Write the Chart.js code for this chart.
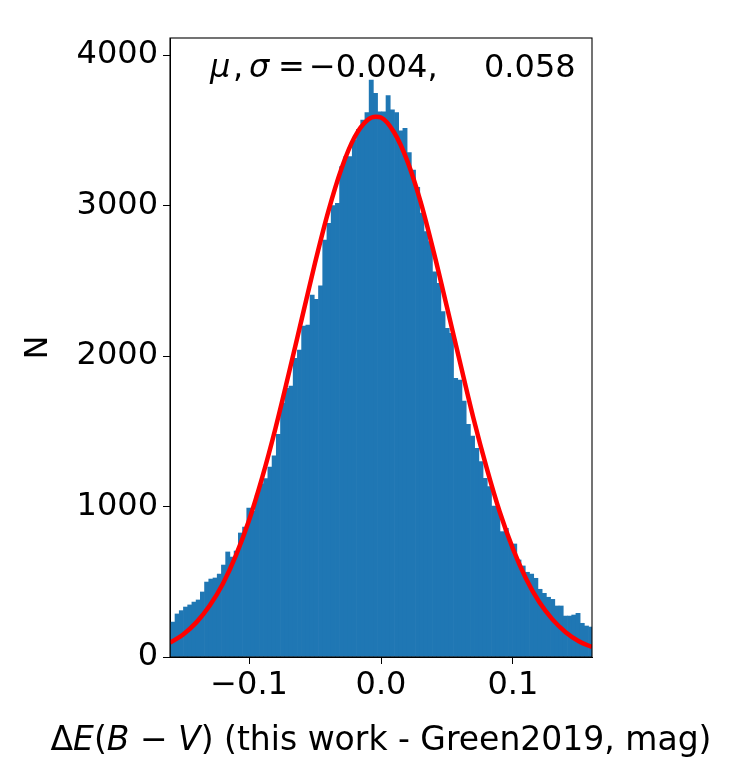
<!DOCTYPE html>
<html>
<head>
<meta charset="utf-8">
<script src="https://cdn.jsdelivr.net/npm/chart.js@4.4.1/dist/chart.umd.min.js"></script>
<style>
  html, body { margin: 0; padding: 0; background: #fff; overflow: hidden; }
  canvas { display: block; }
</style>
</head>
<body>
<canvas id="histChart" width="740" height="760"></canvas>
<script>
// Histogram bins
const binStart = -0.1594;
const binWidth = 0.0032;
const counts = [
    232, 286, 308, 332, 346, 365, 379, 432, 498, 518,
    525, 551, 611, 698, 664, 704, 824, 864, 990, 970,
    1076, 1150, 1185, 1262, 1336, 1480, 1685, 1785, 1800, 1985,
    2040, 2199, 2205, 2405, 2376, 2467, 2771, 2882, 2999, 3014,
    3258, 3325, 3325, 3435, 3506, 3568, 3617, 3834, 3745, 3623,
    3623, 3730, 3635, 3617, 3497, 3513, 3351, 3236, 3120, 2950,
    2826, 2760, 2560, 2483, 2295, 2184, 2150, 1851, 1840, 1701,
    1546, 1468, 1387, 1298, 1187, 1132, 1003, 988, 833, 855,
    755, 751, 645, 605, 563, 551, 523, 450, 423, 397,
    383, 339, 339, 272, 272, 279, 290, 224, 206, 199
];

// Red fitted curve, read at these x positions
const fitX = [
    -0.16, -0.15, -0.14, -0.13, -0.12, -0.11, -0.10, -0.09, -0.08, -0.07, -0.06,
    -0.05, -0.04, -0.03, -0.02, -0.01, -0.004, 0.00, 0.01, 0.02, 0.03, 0.04, 0.05,
    0.06, 0.07, 0.08, 0.09, 0.10, 0.11, 0.12, 0.13, 0.14, 0.15, 0.16
];
const fitY = [
    95, 150, 230, 340, 485, 675, 910, 1195, 1520, 1880, 2250,
    2620, 2960, 3245, 3455, 3570, 3590, 3585, 3485, 3295, 3025, 2690, 2325,
    1955, 1590, 1260, 965, 720, 520, 365, 250, 165, 105, 66
];

const xTicks = [-0.1, 0.0, 0.1];
const yTicks = [0, 1000, 2000, 3000, 4000];

const FONT = 'DejaVu Sans';
const FS = 32;

document.addEventListener('DOMContentLoaded', function() {
    const barData = counts.map((c, i) => ({ x: binStart + (i + 0.5) * binWidth, y: c }));
    const lineData = fitX.map((x, i) => ({ x: x, y: fitY[i] }));

    // draws a list of [text, italic] pieces one after another
    function drawPieces(ctx, pieces, x, y, size) {
        let cx = x;
        pieces.forEach(p => {
            ctx.font = (p[1] ? 'italic ' : '') + size + 'px "' + FONT + '"';
            ctx.fillText(p[0], cx, y);
            cx += ctx.measureText(p[0]).width;
        });
    }
    function piecesWidth(ctx, pieces, size) {
        let w = 0;
        pieces.forEach(p => {
            ctx.font = (p[1] ? 'italic ' : '') + size + 'px "' + FONT + '"';
            w += ctx.measureText(p[0]).width;
        });
        return w;
    }

    const textPlugin = {
        id: 'textPlugin',
        afterDraw(chart) {
            const ctx = chart.ctx;
            const ca = chart.chartArea;
            ctx.save();
            // frame
            ctx.strokeStyle = '#000';
            ctx.lineWidth = 1.1;
            ctx.strokeRect(ca.left, ca.top, ca.right - ca.left, ca.bottom - ca.top);

            ctx.fillStyle = '#000';
            ctx.textBaseline = 'alphabetic';
            ctx.textAlign = 'left';

            // mu, sigma label
            ctx.font = 'italic ' + FS + 'px "' + FONT + '"';
            ctx.fillText('\u03bc', 210, 77);
            ctx.font = FS + 'px "' + FONT + '"';
            ctx.fillText(',', 233, 77);
            ctx.font = 'italic ' + FS + 'px "' + FONT + '"';
            ctx.fillText('\u03c3', 249, 77);
            ctx.font = FS + 'px "' + FONT + '"';
            ctx.fillText('=', 278, 77);
            ctx.fillText('\u22120.004,', 309, 77);
            ctx.fillText('0.058', 484, 77);

            // x axis title
            const title = [
                ['\u0394', false], ['E', true], ['(', false], ['B', true],
                [' \u2212 ', false], ['V', true], [') (this work - Green2019, mag)', false]
            ];
            const w = piecesWidth(ctx, title, 33);
            drawPieces(ctx, title, (ca.left + ca.right) / 2 - w / 2, 750, 33);

            // y axis title
            ctx.translate(39, (ca.top + ca.bottom) / 2);
            ctx.rotate(-Math.PI / 2);
            ctx.textAlign = 'center';
            ctx.textBaseline = 'middle';
            ctx.font = FS + 'px "' + FONT + '"';
            ctx.fillText('N', 0, 0);
            ctx.restore();
        }
    };

    const ctx = document.getElementById('histChart').getContext('2d');
    new Chart(ctx, {
        type: 'bar',
        data: {
            datasets: [
                {
                    type: 'line',
                    data: lineData,
                    borderColor: '#ff0000',
                    borderWidth: 4.5,
                    pointRadius: 0,
                    cubicInterpolationMode: 'monotone',
                    order: 0
                },
                {
                    type: 'bar',
                    data: barData,
                    backgroundColor: '#1f77b4',
                    borderWidth: 0,
                    barPercentage: 1.0,
                    categoryPercentage: 1.0,
                    order: 1
                }
            ]
        },
        options: {
            responsive: false,
            animation: false,
            devicePixelRatio: 1,
            layout: { padding: { top: 38, right: 148, left: 0, bottom: 0 } },
            plugins: {
                legend: { display: false },
                tooltip: { enabled: false }
            },
            scales: {
                x: {
                    type: 'linear',
                    min: -0.16,
                    max: 0.16,
                    offset: false,
                    grid: { offset: false, drawOnChartArea: false, tickLength: 7, color: '#000' },
                    border: { color: '#000', width: 1 },
                    ticks: {
                        font: { family: FONT, size: FS },
                        color: '#000',
                        padding: 2,
                        maxRotation: 0,
                        callback: v => (v < -1e-9 ? '\u2212' : '') + Math.abs(v).toFixed(1)
                    },
                    afterBuildTicks: s => { s.ticks = xTicks.map(v => ({ value: v })); },
                    afterFit: s => { s.height = 103; }
                },
                y: {
                    min: 0,
                    max: 4113,
                    grid: { drawOnChartArea: false, tickLength: 7, color: '#000' },
                    border: { color: '#000', width: 1 },
                    ticks: {
                        font: { family: FONT, size: FS },
                        color: '#000',
                        padding: 5,
                        callback: v => String(v)
                    },
                    afterBuildTicks: s => { s.ticks = yTicks.map(v => ({ value: v })); },
                    afterFit: s => { s.width = 170; }
                }
            }
        },
        plugins: [textPlugin]
    });
});
</script>
</body>
</html>
